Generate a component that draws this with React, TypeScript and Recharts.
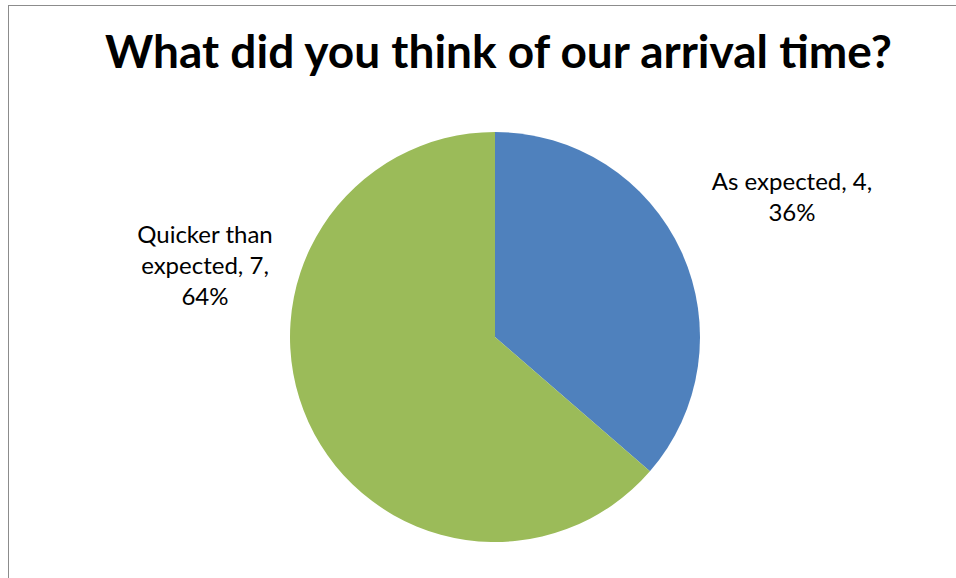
import React from 'react';
import { PieChart, Pie, Cell } from 'recharts';

const TITLE = 'What did you think of our arrival time?';
const CATEGORIES = ['As expected', 'Quicker than expected'];
const VALUES = [4, 7];
const COLORS = ['#4F81BD', '#9BBB59'];

// where each data label sits (text lines centred on x)
const LABEL_POS: Record<string, { x: number; y: number; lines: (n: string, v: number, p: number) => string[] }> = {
    'As expected': { x: 792, y: 190, lines: (n, v, p) => [`${n}, ${v},`, `${p}%`] },
    'Quicker than expected': { x: 205, y: 243, lines: (n, v, p) => ['Quicker than', `expected, ${v},`, `${p}%`] },
};

const FONT = 'Lato, "Open Sans", sans-serif';

const chartData = CATEGORIES.map((name, i) => ({ name, value: VALUES[i] }));

// eslint-disable-next-line @typescript-eslint/no-explicit-any
const renderLabel = (props: any) => {
    const { name, value, percent } = props;
    const pos = LABEL_POS[name];
    if (!pos) return null;
    const lines = pos.lines(name, value, Math.round(percent * 100));
    return (
        <text x={pos.x} y={pos.y} textAnchor="middle" fill="#000" fontFamily={FONT} fontSize={24}>
            {lines.map((l, i) => (
                <tspan key={i} x={pos.x} dy={i === 0 ? 0 : 31}>{l}</tspan>
            ))}
        </text>
    );
};

const App = () => {
    return (
        <div style={{ position: 'absolute', left: 0, top: 0, width: 956, height: 578, overflow: 'hidden', background: '#fff' }}>
            <div style={{ position: 'absolute', left: 8, top: 5, width: 1000, height: 700, border: '1.5px solid #8c8c8c', boxSizing: 'border-box' }} />
            <div style={{ position: 'absolute', left: 0, top: 23, width: 997, textAlign: 'center', fontFamily: FONT, fontWeight: 700, fontSize: 46, lineHeight: '56px', color: '#000', whiteSpace: 'nowrap' }}>
                {TITLE}
            </div>
            <div style={{ position: 'absolute', left: 0, top: 0 }}>
                <PieChart width={956} height={578}>
                    <Pie
                        data={chartData}
                        dataKey="value"
                        nameKey="name"
                        cx={490}
                        cy={332}
                        outerRadius={205}
                        startAngle={90}
                        endAngle={-270}
                        stroke="none"
                        labelLine={false}
                        label={renderLabel}
                        isAnimationActive={false}
                    >
                        {chartData.map((entry, index) => (
                            <Cell key={`cell-${entry.name}`} fill={COLORS[index % COLORS.length]} />
                        ))}
                    </Pie>
                </PieChart>
            </div>
        </div>
    );
};

export default App;
